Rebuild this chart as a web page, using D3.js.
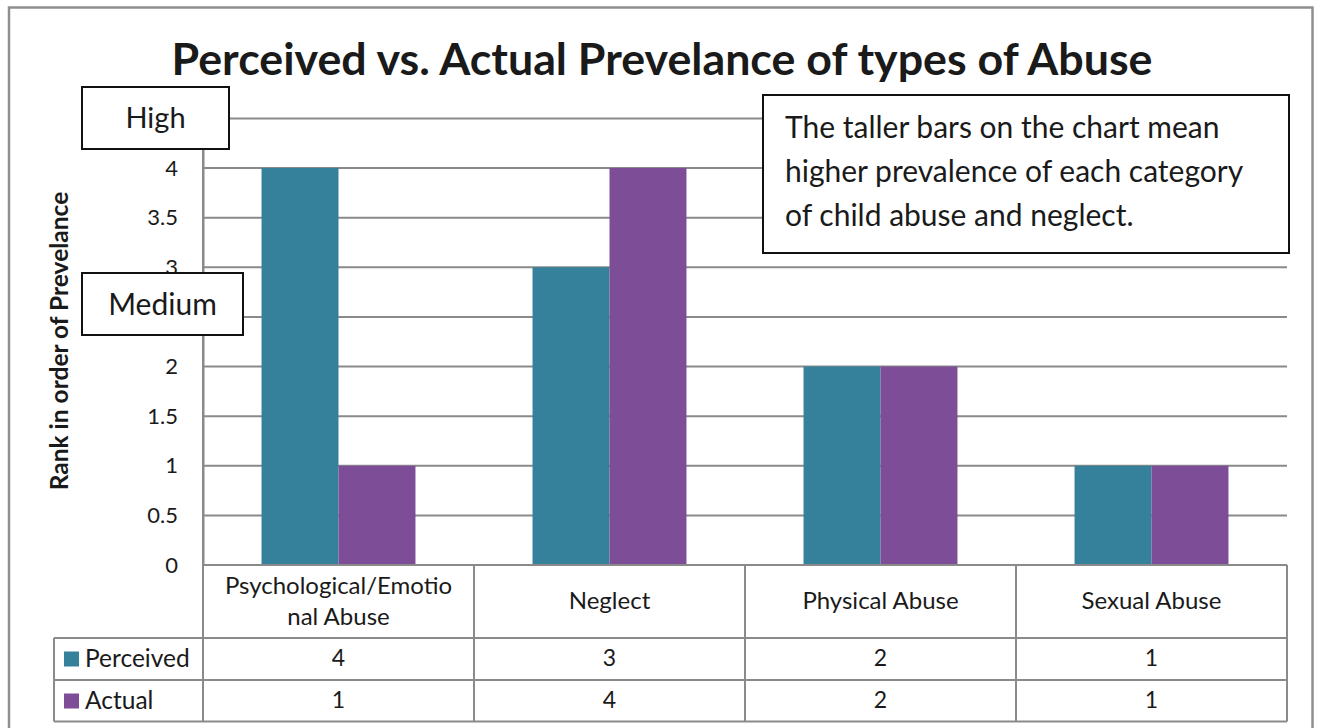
<!DOCTYPE html>
<html><head><meta charset="utf-8">
<script src="https://cdn.jsdelivr.net/npm/d3@7"></script>
<style>body{margin:0;background:#fff}svg{display:block;font-family:Lato,"Open Sans",sans-serif}</style>
</head><body><svg id="c" width="1317" height="728"></svg>
<script>
const categories = ["Psychological/Emotional Abuse","Neglect","Physical Abuse","Sexual Abuse"];
const categoryLines = [["Psychological/Emotio","nal Abuse"],["Neglect"],["Physical Abuse"],["Sexual Abuse"]];
const seriesNames = ["Perceived","Actual"];
const perceived = [4,3,2,1];
const actual = [1,4,2,1];
const yTicks = [0,0.5,1,1.5,2,2.5,3,3.5,4,4.5];
const hiddenTicks = [2.5,4.5]; // covered by the High / Medium boxes in the original
const colors = ["#35819b","#7d4d97"];
const title = "Perceived vs. Actual Prevelance of types of Abuse";
const yTitle = "Rank in order of Prevelance";
const noteLines = ["The taller bars on the chart mean","higher prevalence of each category","of child abuse and neglect."];

const svg = d3.select("#c");
const gridCol = "#8a8a8a", txt = "#1a1a1a";
const L = 203, R = 1287, T = 118.4, B = 565;

// outer frame
svg.append("rect").attr("x",9).attr("y",7.5).attr("width",1303.5).attr("height",740)
  .attr("fill","none").attr("stroke","#8f8f8f").attr("stroke-width",2.5);

const x0 = d3.scaleBand().domain(categories).range([L,R]).paddingInner(0.432).paddingOuter(0.216);
const x1 = d3.scaleBand().domain(seriesNames).range([0,x0.bandwidth()]);
const y = d3.scaleLinear().domain([0,4.5]).range([B,T]);
const step = x0.step();

// gridlines
svg.append("g").selectAll("line").data(yTicks.filter(d=>d>0)).join("line")
  .attr("x1",L).attr("x2",R).attr("y1",d=>y(d)).attr("y2",d=>y(d))
  .attr("stroke",gridCol).attr("stroke-width",2);

// y axis
const ya = svg.append("g").attr("transform",`translate(${L},0)`)
  .call(d3.axisLeft(y).tickValues(yTicks).tickSize(0).tickPadding(25)
    .tickFormat(d=>hiddenTicks.includes(d)?"":d3.format("")(d)));
ya.select(".domain").attr("stroke",gridCol).attr("stroke-width",2);
ya.selectAll("text").attr("font-size",22).attr("fill",txt).attr("font-family","Lato");

// bars
const data = categories.map((c,i)=>({c, vals:[perceived[i],actual[i]]}));
svg.append("g").selectAll("g").data(data).join("g")
  .attr("transform",d=>`translate(${x0(d.c)},0)`)
  .selectAll("rect").data(d=>d.vals.map((v,j)=>({s:seriesNames[j],v,j}))).join("rect")
  .attr("x",d=>x1(d.s)).attr("width",x1.bandwidth())
  .attr("y",d=>y(d.v)).attr("height",d=>y(0)-y(d.v)).attr("fill",d=>colors[d.j]);

// data table
const rowY = [B, 638, 680, 721.5];
const tbl = svg.append("g").attr("stroke",gridCol).attr("stroke-width",2).attr("fill","none");
tbl.append("line").attr("x1",L).attr("x2",R).attr("y1",rowY[0]).attr("y2",rowY[0]);
[1,2,3].forEach(k=>tbl.append("line").attr("x1",54).attr("x2",R).attr("y1",rowY[k]).attr("y2",rowY[k]));
tbl.append("line").attr("x1",54).attr("x2",54).attr("y1",rowY[1]).attr("y2",rowY[3]);
d3.range(categories.length+1).forEach(k=>{
  const xx = L + k*step;
  tbl.append("line").attr("x1",xx).attr("x2",xx).attr("y1",k===0?T:rowY[0]).attr("y2",rowY[3]);
});
// category labels + values
categories.forEach((c,i)=>{
  const cx = x0(c)+x0.bandwidth()/2;
  const lines = categoryLines[i];
  const base = lines.length===1 ? 609 : 594;
  lines.forEach((ln,k)=>svg.append("text").attr("x",cx).attr("y",base+k*31)
    .attr("text-anchor","middle").attr("font-size",24).attr("fill",txt).text(ln));
  [perceived[i],actual[i]].forEach((v,j)=>svg.append("text").attr("x",cx).attr("y",[666,708][j])
    .attr("text-anchor","middle").attr("font-size",23).attr("fill",txt).text(v));
});
// legend keys
seriesNames.forEach((s,j)=>{
  const cy = [659,701][j];
  svg.append("rect").attr("x",64).attr("y",cy-7.5).attr("width",15).attr("height",15).attr("fill",colors[j]);
  svg.append("text").attr("x",85).attr("y",cy+8).attr("font-size",24.5).attr("fill",txt).text(s);
});

// y title
svg.append("text").attr("transform","translate(68,341) rotate(-90)").attr("text-anchor","middle")
  .attr("font-size",24.5).attr("font-weight","bold").attr("fill",txt).text(yTitle);

// title
const tt = svg.append("text").attr("x",662).attr("y",75).attr("text-anchor","middle")
  .attr("font-size",40).attr("font-weight","bold").attr("fill",txt).text(title);
const w = tt.node().getComputedTextLength();
tt.attr("font-size",40*981/w);

// label boxes
function box(x,yy,w,h,label,fs){
  svg.append("rect").attr("x",x).attr("y",yy).attr("width",w).attr("height",h)
    .attr("fill","#fff").attr("stroke","#111").attr("stroke-width",2);
  return svg.append("text").attr("x",x+w/2).attr("y",yy+h/2).attr("dy","0.35em")
    .attr("text-anchor","middle").attr("font-size",fs).attr("fill",txt).text(label);
}
box(82,87,147,62,"High",29);
box(82,273,161,62,"Medium",30);
svg.append("rect").attr("x",763).attr("y",95).attr("width",526).attr("height",158)
  .attr("fill","#fff").attr("stroke","#111").attr("stroke-width",2);
noteLines.forEach((ln,k)=>svg.append("text").attr("x",785).attr("y",138+k*44)
  .attr("font-size",30).attr("fill",txt).text(ln));
</script></body></html>
